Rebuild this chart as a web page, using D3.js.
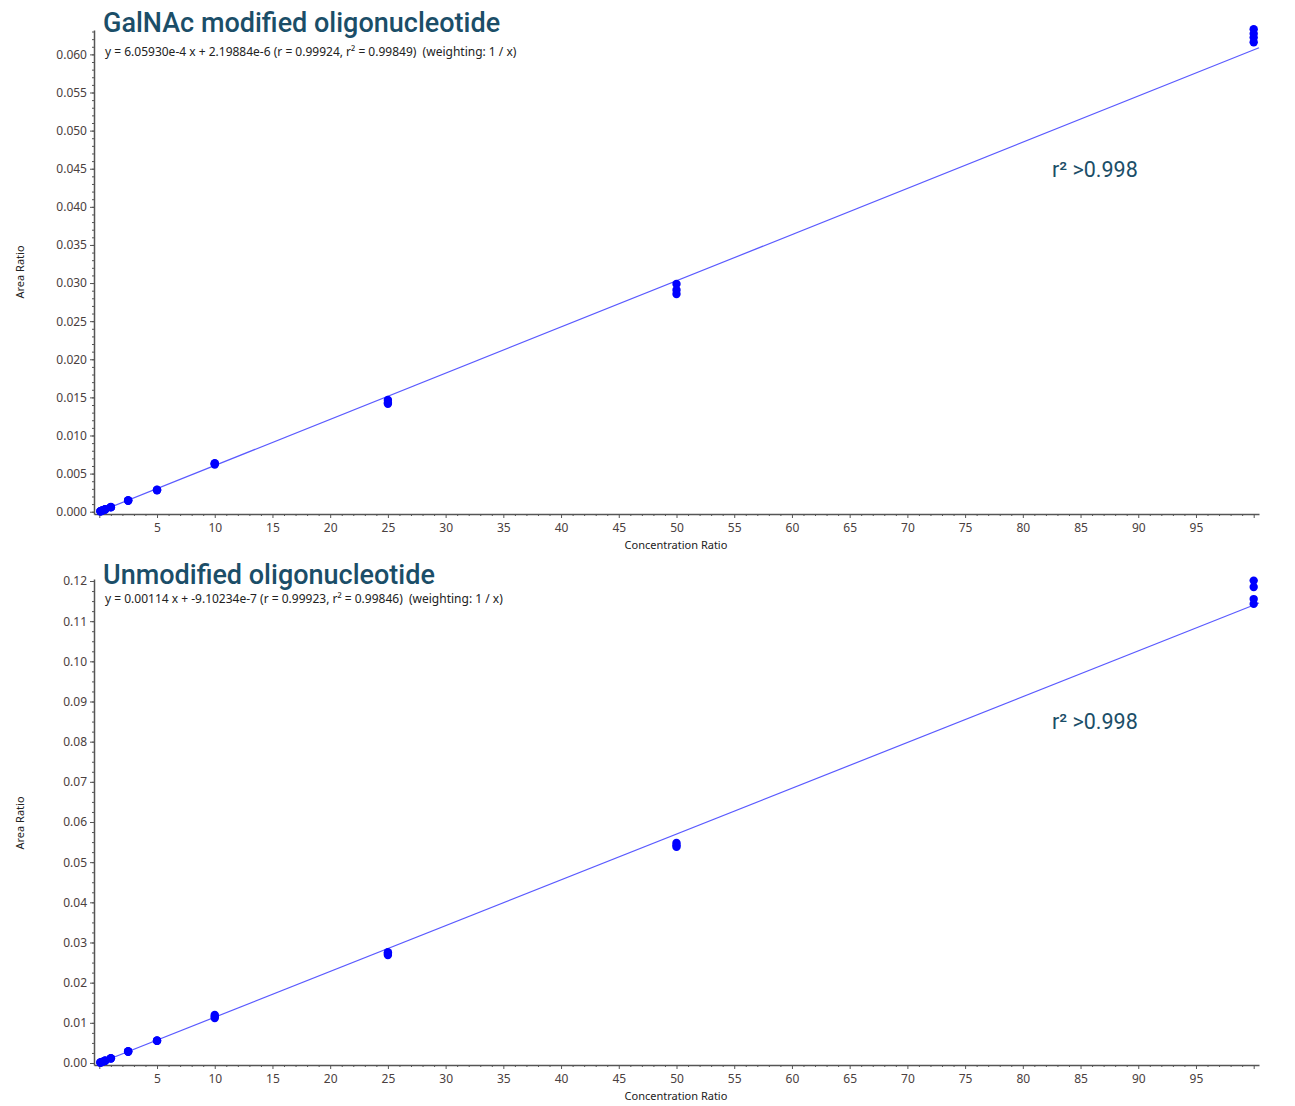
<!DOCTYPE html>
<html><head><meta charset="utf-8">
<script src="https://cdn.jsdelivr.net/npm/d3@7"></script>
<style>body{margin:0;background:#fff}svg{display:block}text{white-space:pre}</style>
</head><body>
<svg id="c" width="1295" height="1106"></svg>
<script>
const concentrations = [0.1, 0.25, 0.5, 1, 2.5, 5, 10, 25, 50, 100];
// replicate area ratios per concentration
const galnacValues = [
  [0.00006, 0.00007, 0.00005],
  [0.00015, 0.00016, 0.00014],
  [0.00030, 0.00032, 0.00029],
  [0.00060, 0.00058, 0.00062],
  [0.00146, 0.00150, 0.00144],
  [0.00285, 0.00290, 0.00280],
  [0.00620, 0.00630, 0.00635],
  [0.01467, 0.01430, 0.01415],
  [0.02987, 0.02910, 0.02856],
  [0.06330, 0.06270, 0.06220, 0.06160]
];
const unmodValues = [
  [0.00011, 0.00012, 0.00010],
  [0.00028, 0.00029, 0.00027],
  [0.00056, 0.00058, 0.00055],
  [0.00115, 0.00120, 0.00112],
  [0.00285, 0.00292, 0.00280],
  [0.00555, 0.00560, 0.00550],
  [0.01195, 0.01160, 0.01120],
  [0.02760, 0.02720, 0.02690],
  [0.05480, 0.05420, 0.05380],
  [0.12010, 0.11850, 0.11550, 0.11430]
];
const titles = ["GalNAc modified oligonucleotide", "Unmodified oligonucleotide"];
const equations = [
  "y = 6.05930e-4 x + 2.19884e-6 (r = 0.99924, r\u00B2 = 0.99849)  (weighting: 1 / x)",
  "y = 0.00114 x + -9.10234e-7 (r = 0.99923, r\u00B2 = 0.99846)  (weighting: 1 / x)"
];
const slopes = [6.05930e-4, 0.00114];
const intercepts = [2.19884e-6, -9.10234e-7];
const r2Label = "r\u00B2 >0.998";
const xTickLabels = [5,10,15,20,25,30,35,40,45,50,55,60,65,70,75,80,85,90,95];
const yTicksTop = d3.range(0, 0.0601, 0.005);
const yTicksBottom = d3.range(0, 0.1201, 0.01);

const svg = d3.select("#c");
const font = "'Noto Sans', 'Open Sans', sans-serif";
const titleColor = "#1b4e68";

const panels = [
  {vals: galnacValues, yDom: [-0.0003, 0.0632], yRange: [514, 30], yTicks: yTicksTop, yMinor: 0.001, fmt: d3.format(".3f"), titleY: 32, eqY: 56, r2Y: 177, xTitleY: 549, yTitleY: 272},
  {vals: unmodValues, yDom: [-0.0005, 0.1205], yRange: [1065, 579], yTicks: yTicksBottom, yMinor: 0.0025, fmt: d3.format(".2f"), titleY: 584, eqY: 603, r2Y: 729, xTitleY: 1100, yTitleY: 823}
];

panels.forEach((p, i) => {
  const x = d3.scaleLinear().domain([-0.46, 100.46]).range([94, 1259]);
  const y = d3.scaleLinear().domain(p.yDom).range(p.yRange);
  const g = svg.append("g");
  const x0 = p.yRange[0];

  // x axis
  const xMinor = d3.range(0, 101, 1).filter(v => v % 5 !== 0);
  g.append("g").attr("transform", `translate(0,${x0})`)
    .call(d3.axisBottom(x).tickValues(xMinor).tickSize(2).tickFormat(""))
    .call(a => a.select(".domain").remove())
    .selectAll("line").attr("stroke", "#555");
  const xa = g.append("g").attr("transform", `translate(0,${x0})`)
    .call(d3.axisBottom(x).tickValues(xTickLabels.concat([0,100])).tickSize(4).tickSizeOuter(0)
      .tickFormat(d => xTickLabels.includes(d) ? d : ""));
  xa.select(".domain").attr("stroke", "#555").attr("stroke-width", 1.5);
  xa.selectAll("line").attr("stroke", "#555");
  xa.selectAll("text").attr("font-family", font).attr("font-size", 12).attr("fill", "#4a4040").attr("dy", "0.9em");

  // y axis
  const yMinorVals = d3.range(0, p.yDom[1], p.yMinor);
  g.append("g").attr("transform", `translate(94,0)`)
    .call(d3.axisLeft(y).tickValues(yMinorVals).tickSize(2).tickFormat(""))
    .call(a => a.select(".domain").remove())
    .selectAll("line").attr("stroke", "#555");
  const ya = g.append("g").attr("transform", `translate(94,0)`)
    .call(d3.axisLeft(y).tickValues(p.yTicks).tickSize(4).tickSizeOuter(0).tickFormat(p.fmt));
  ya.select(".domain").attr("stroke", "#555").attr("stroke-width", 1.5);
  ya.selectAll("line").attr("stroke", "#555");
  ya.selectAll("text").attr("font-family", font).attr("font-size", 12).attr("fill", "#4a4040");

  // regression line
  const xd = x.domain();
  g.append("line")
    .attr("x1", x(0)).attr("y1", y(intercepts[i]))
    .attr("x2", x(xd[1])).attr("y2", y(slopes[i] * xd[1] + intercepts[i]))
    .attr("stroke", "#5a5aff").attr("stroke-width", 1.2);

  // points
  const pts = [];
  concentrations.forEach((c, k) => p.vals[k].forEach(v => pts.push([c, v])));
  g.selectAll("circle").data(pts).join("circle")
    .attr("cx", d => x(d[0])).attr("cy", d => y(d[1])).attr("r", 4.2)
    .attr("fill", "#0000ff");

  // texts
  g.append("text").attr("x", 103).attr("y", p.titleY).text(titles[i])
    .attr("font-family", "Roboto, sans-serif").attr("font-size", 27).attr("font-weight", 500)
    .attr("fill", titleColor);
  g.append("text").attr("x", 105).attr("y", p.eqY).text(equations[i])
    .attr("font-family", font).attr("font-size", 12).attr("fill", "#222");
  g.append("text").attr("x", 1052).attr("y", p.r2Y).text(r2Label)
    .attr("font-family", "Roboto, sans-serif").attr("font-size", 21.5).attr("fill", titleColor);
  g.append("text").attr("x", 676).attr("y", p.xTitleY).attr("text-anchor", "middle").text("Concentration Ratio")
    .attr("font-family", font).attr("font-size", 11).attr("fill", "#222");
  g.append("text").attr("transform", `translate(24,${p.yTitleY}) rotate(-90)`).attr("text-anchor", "middle").text("Area Ratio")
    .attr("font-family", font).attr("font-size", 11).attr("fill", "#222");
});
</script>
</body></html>
